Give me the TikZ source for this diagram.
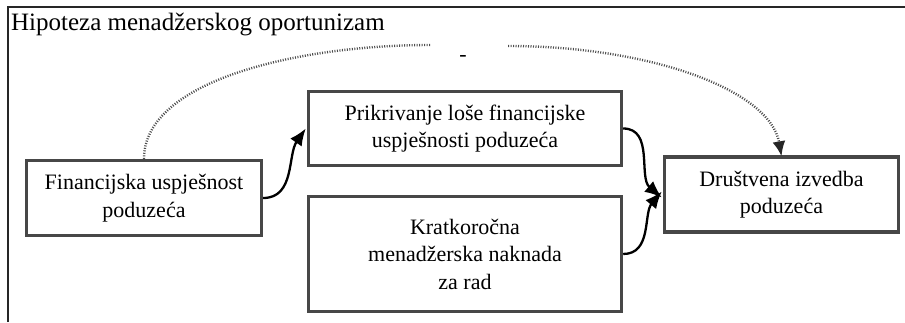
\documentclass[tikz,border=0pt]{standalone}
\usepackage{fontspec}
\setmainfont{Liberation Serif}
\usetikzlibrary{arrows.meta}
\begin{document}
\begin{tikzpicture}[x=1pt,y=-1pt,
  box/.style={draw=black!72, line width=3.4pt, fill=white, align=center,
    inner sep=0pt, font=\fontsize{22}{27.5}\selectfont},
  flow/.style={line width=2.3pt, -{Latex[length=17pt,width=14pt]}},
  dotline/.style={line width=2.4pt, black!70, dash pattern=on 1pt off 1.5pt},
  tip/.style={-{Latex[length=15pt,width=13pt,black!85]}}]
\useasboundingbox (0,0) rectangle (905,322);

% open frame: left and top edges only
\draw[line width=1.6pt, black!85] (8,322) -- (8,7) -- (905,7);
\node[anchor=base west, inner sep=0pt, font=\fontsize{25}{28}\selectfont]
  (title) at (11,30) {Hipoteza menadžerskog oportunizam};

% boxes
\node[box, minimum width=235pt, minimum height=75pt] (fin) at (144,198)
  {Financijska uspješnost\\poduzeća};
\node[box, minimum width=313pt, minimum height=74pt] (prik) at (465,128.5)
  {Prikrivanje loše financijske\\uspješnosti poduzeća};
\node[box, minimum width=313pt, minimum height=115pt] (krat) at (465,254)
  {Kratkoročna\\menadžerska naknada\\za rad};
\node[box, minimum width=234pt, minimum height=75pt] (drus) at (781.5,194.5)
  {Društvena izvedba\\poduzeća};

% solid influence arrows
\draw[flow] (fin.east) to[out=0, in=-125] ([xshift=-1pt]prik.west);
\draw[flow] (prik.east) to[out=0, in=140] ([xshift=-1pt,yshift=-3pt]drus.west);
\draw[flow] (krat.east) to[out=0, in=-130] ([xshift=-1pt,yshift=3pt]drus.west);

% dotted negative link, broken around its sign
\coordinate (gapl) at (430,45);
\coordinate (gapr) at (508,46);
\node[inner sep=0pt, font=\fontsize{22}{22}\selectfont] (sign) at (463,58) {-};
\draw[dotline] (fin.north) .. controls (144,80) and (300,45) .. (gapl);
\draw[dotline, tip] (gapr) .. controls (650,46) and (770,90) .. ([yshift=-1pt]drus.north);
\end{tikzpicture}
\end{document}
